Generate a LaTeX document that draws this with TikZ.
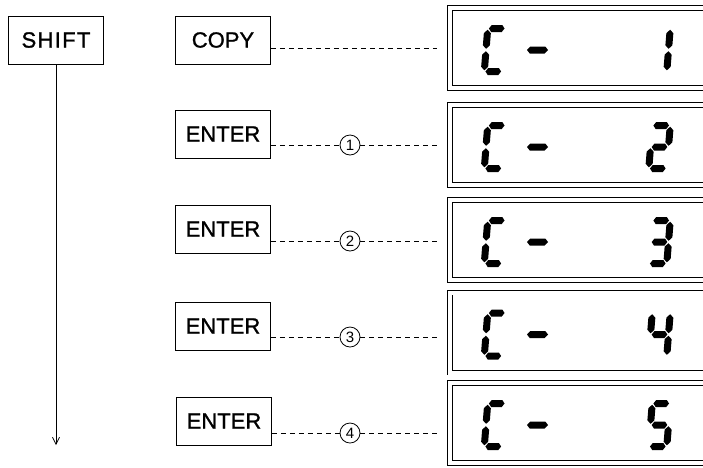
\documentclass[tikz,border=0pt]{standalone}
\usepackage{fontspec}
\setmainfont{Liberation Sans}
\newfontfamily\keyfont[FakeBold=1.2]{Liberation Sans}
\newfontfamily\widefont[FakeBold=1.2,LetterSpace=6]{Liberation Sans}
\usetikzlibrary{arrows.meta}
\tikzset{
  keycap/.style={draw, line width=0.8pt, minimum width=95, minimum height=48, inner sep=0pt,
                 font=\keyfont\fontsize{22}{26}\selectfont},
  lcd/.style={draw, line width=0.8pt, double, double distance=4pt, minimum width=280,
              minimum height=80, anchor=west},
  num/.style={draw, circle, line width=0.8pt, minimum size=20, inner sep=0pt,
              font=\fontsize{15}{17}\selectfont},
  dots/.style={dash pattern=on 5pt off 4pt, line width=0.7pt, shorten >=13pt},
  flow/.style={-{Straight Barb[length=7pt,width=7pt]}, line width=0.7pt},
  segfill/.style={fill=black},
}
% seven-segment pieces, local frame 25 x 50, y down
\newcommand{\segh}[1]{\fill[segfill] (4.7,#1) -- (7.2,#1-3.5) -- (17.8,#1-3.5) -- (20.3,#1) -- (17.8,#1+3.5) -- (7.2,#1+3.5) -- cycle;}
\newcommand{\segv}[3]{\fill[segfill] (#1,#2+1.2) -- (#1+3.5,#2+4.7) -- (#1+3.5,#3-4.7) -- (#1,#3-1.2) -- (#1-3.5,#3-4.7) -- (#1-3.5,#2+4.7) -- cycle;}
\newcommand{\sega}{\segh{3.5}}
\newcommand{\segg}{\segh{25}}
\newcommand{\segd}{\segh{46.5}}
\newcommand{\segf}{\segv{3.5}{3.5}{25}}
\newcommand{\sege}{\segv{3.5}{25}{46.5}}
\newcommand{\segb}{\segv{21.5}{3.5}{25}}
\newcommand{\segc}{\segv{21.5}{25}{46.5}}
\newcommand{\segm}{\fill[segfill] (0,25) -- (3,21.5) -- (18,21.5) -- (21,25) -- (18,28.5) -- (3,28.5) -- cycle;}
\newcommand{\lcdchar}[3]{%
  \begin{scope}[shift={(#1.west)}]
    \begin{scope}[shift={(#2,-23)}, xslant=0.08]
      \foreach \s in {#3} {\csname seg\s\endcsname}
    \end{scope}
  \end{scope}}
\newcommand{\lcdshow}[2]{\lcdchar{#1}{35}{a,f,e,d}\lcdchar{#1}{79.5}{m}\lcdchar{#1}{199.5}{#2}}
\begin{document}
\begin{tikzpicture}[x=1pt, y=-1pt]
  \useasboundingbox (0,0) rectangle (703,467);
  \clip (0,0) rectangle (703,467);
  \node[keycap] (shift) at (56,40) {\widefont SHIFT};
  \node[keycap] (copy) at (223,40) {COPY};
  \node[keycap] (ent1) at (223,134) {ENTER};
  \node[keycap] (ent2) at (223,229) {ENTER};
  \node[keycap] (ent3) at (223,326) {ENTER};
  \node[keycap] (ent4) at (224,421) {ENTER};
  \node[lcd] (lcd1) at (449.5,48) {};
  \node[lcd] (lcd2) at (449.5,145) {};
  \node[lcd] (lcd3) at (449.5,240) {};
  \node[lcd] (lcd4) at (449.5,332.5) {};
  \node[lcd] (lcd5) at (449.5,423) {};
  \node[num] (num1) at (350,145) {1};
  \node[num] (num2) at (350,241) {2};
  \node[num] (num3) at (350,337) {3};
  \node[num] (num4) at (350,433) {4};
  \coordinate (shiftend) at (56,445);
  \draw[flow] (shift) -- (shiftend);
  \draw[dots] (copy.east |- lcd1.west) -- (lcd1.west);
  \draw[dots] (ent1.east |- num1) -- (num1) -- (lcd2.west |- num1);
  \draw[dots] (ent2.east |- num2) -- (num2) -- (lcd3.west |- num2);
  \draw[dots] (ent3.east |- num3) -- (num3) -- (lcd4.west |- num3);
  \draw[dots] (ent4.east |- num4) -- (num4) -- (lcd5.west |- num4);
  \lcdshow{lcd1}{b,c}
  \lcdshow{lcd2}{a,b,g,e,d}
  \lcdshow{lcd3}{a,b,g,c,d}
  \lcdshow{lcd4}{f,g,b,c}
  \lcdshow{lcd5}{a,f,g,c,d}
\end{tikzpicture}
\end{document}
